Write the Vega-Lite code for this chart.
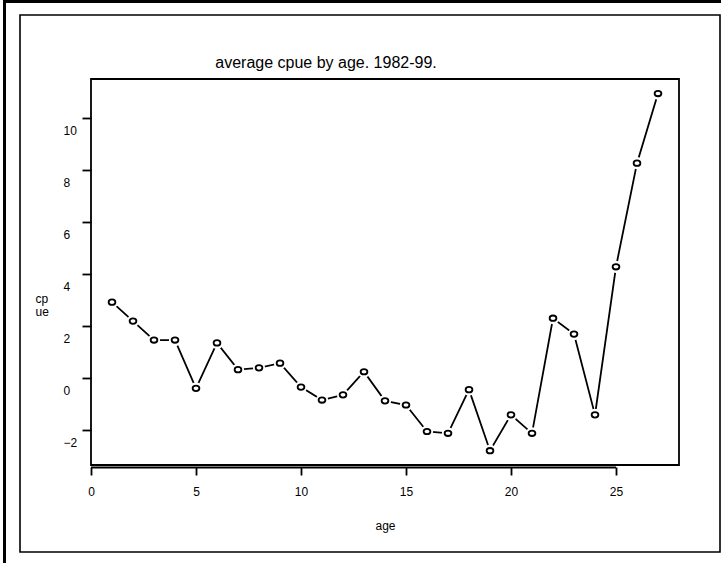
{
  "$schema": "https://vega.github.io/schema/vega-lite/v6.json",
  "autosize": "none",
  "width": 700,
  "height": 537,
  "padding": {"left": 20, "top": 15, "right": 1, "bottom": 11},
  "background": "white",
  "config": {
    "view": {"stroke": "black", "strokeWidth": 1.6},
    "font": "Liberation Sans",
    "axis": {"grid": false}
  },
  "title": {
    "text": "average cpue by age. 1982-99.",
    "font": "Liberation Sans",
    "fontSize": 16,
    "fontWeight": "normal",
    "color": "black",
    "anchor": "middle",
    "frame": "group",
    "baseline": "alphabetic",
    "offset": 0,
    "dy": 84,
    "dx": -44
  },
  "layer": [
    {
      "data": {"values": [
        {"age": 1, "cpue": 2.91}, {"age": 2, "cpue": 2.18}, {"age": 3, "cpue": 1.45},
        {"age": 4, "cpue": 1.45}, {"age": 5, "cpue": -0.41}, {"age": 6, "cpue": 1.34},
        {"age": 7, "cpue": 0.31}, {"age": 8, "cpue": 0.38}, {"age": 9, "cpue": 0.56},
        {"age": 10, "cpue": -0.36}, {"age": 11, "cpue": -0.86}, {"age": 12, "cpue": -0.66},
        {"age": 13, "cpue": 0.23}, {"age": 14, "cpue": -0.89}, {"age": 15, "cpue": -1.05},
        {"age": 16, "cpue": -2.07}, {"age": 17, "cpue": -2.14}, {"age": 18, "cpue": -0.46},
        {"age": 19, "cpue": -2.81}, {"age": 20, "cpue": -1.43}, {"age": 21, "cpue": -2.14},
        {"age": 22, "cpue": 2.29}, {"age": 23, "cpue": 1.68}, {"age": 24, "cpue": -1.43},
        {"age": 25, "cpue": 4.27}, {"age": 26, "cpue": 8.26}, {"age": 27, "cpue": 10.94}
      ]},
      "encoding": {
        "x": {
          "field": "age", "type": "quantitative",
          "scale": {"domain": [0, 28], "range": [71, 659], "nice": false, "zero": false},
          "axis": {
            "values": [0, 5, 10, 15, 20, 25],
            "offset": -85,
            "domain": false,
            "grid": false,
            "ticks": true,
            "tickSize": 8,
            "tickWidth": 1.8,
            "tickColor": "black",
            "labelFont": "Liberation Sans",
            "labelFontSize": 12,
            "labelColor": "black",
            "labelPadding": 11,
            "labelFlush": false,
            "title": "age",
            "titleFont": "Liberation Sans",
            "titleFontSize": 12,
            "titleFontWeight": "normal",
            "titleColor": "black",
            "titleBaseline": "alphabetic",
            "titleY": 62
          }
        },
        "y": {
          "field": "cpue", "type": "quantitative",
          "scale": {"domain": [-3.36, 11.5], "range": [450, 64], "nice": false, "zero": false},
          "axis": {
            "values": [-2, 0, 2, 4, 6, 8, 10],
            "offset": -71,
            "domain": false,
            "grid": false,
            "tickSize": 9,
            "tickWidth": 1.8,
            "tickColor": "black",
            "labelFont": "Liberation Sans",
            "labelFontSize": 12,
            "labelColor": "black",
            "labelAlign": "left",
            "labelBaseline": "middle",
            "labelPadding": 19,
            "labelOffset": 12.5,
            "title": ["cp", "ue"],
            "titleFont": "Liberation Sans",
            "titleFontSize": 12,
            "titleFontWeight": "normal",
            "titleColor": "black",
            "titleAngle": 0,
            "titleAlign": "left",
            "titleBaseline": "top",
            "titleX": -56,
            "titleY": 278,
            "titleLineHeight": 13
          }
        }
      },
      "layer": [
        {"mark": {"type": "line", "stroke": "black", "strokeWidth": 1.8}},
        {"mark": {"type": "point", "shape": "circle", "filled": true, "fill": "white", "opacity": 1, "size": 150, "strokeWidth": 0}},
        {"mark": {"type": "point", "shape": "M -1 0 A 1 0.8 0 1 0 1 0 A 1 0.8 0 1 0 -1 0 Z", "filled": false, "fill": "white", "stroke": "black", "strokeWidth": 1.8, "opacity": 1, "size": 46}}
      ]
    },
    {
      "data": {"values": [{"x0": 0, "x1": 28, "y0": -3.36, "y1": 11.5}]},
      "mark": {"type": "rect", "fill": null, "stroke": "black", "strokeWidth": 1.8},
      "encoding": {
        "x": {"field": "x0", "type": "quantitative"},
        "x2": {"field": "x1"},
        "y": {"field": "y0", "type": "quantitative"},
        "y2": {"field": "y1"}
      }
    },
    {
      "data": {"values": [{"a": 0, "b": 25, "ymin": -3.36}]},
      "mark": {"type": "rule", "stroke": "black", "strokeWidth": 1.8, "yOffset": 2.5},
      "encoding": {
        "x": {"field": "a", "type": "quantitative"},
        "x2": {"field": "b"},
        "y": {"field": "ymin", "type": "quantitative"}
      }
    },
    {
      "data": {"values": [{"frame": "outer"}]},
      "mark": {"type": "rect", "fill": null, "stroke": "black", "strokeWidth": 3, "clip": false},
      "encoding": {
        "x": {"value": -15.5},
        "y": {"value": -13.5},
        "x2": {"value": 760},
        "y2": {"value": 600}
      }
    }
  ]
}
